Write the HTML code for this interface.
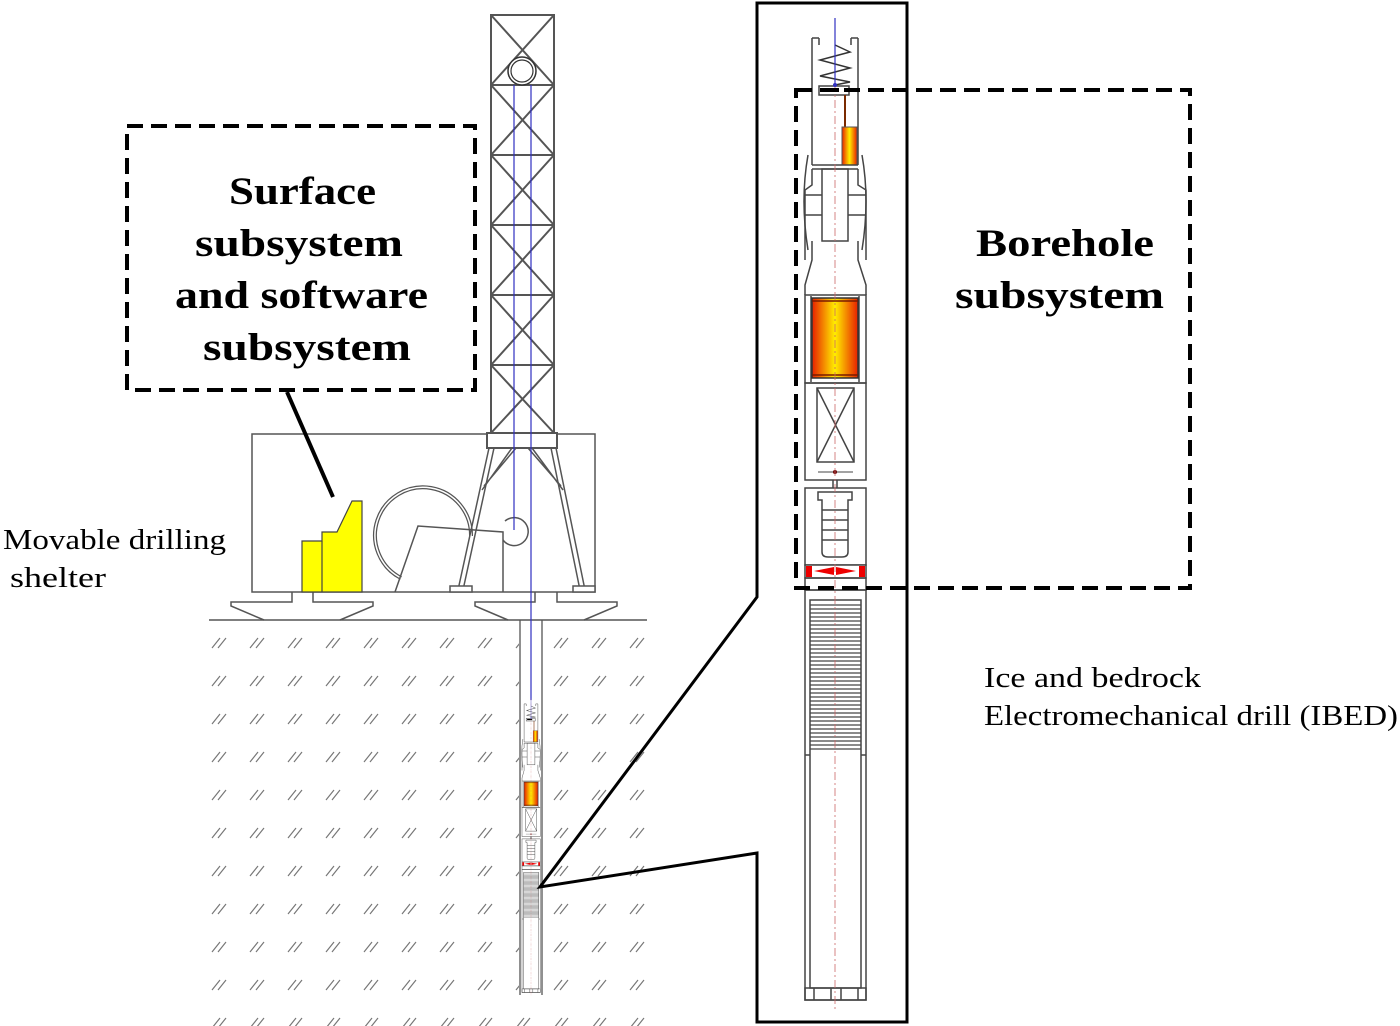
<!DOCTYPE html>
<html><head><meta charset="utf-8"><style>
html,body{margin:0;padding:0;background:#fff;}
svg{display:block;}
text{font-family:"Liberation Serif",serif;}
</style></head><body>
<svg width="1400" height="1026" viewBox="0 0 1400 1026" xmlns="http://www.w3.org/2000/svg">
<defs>
<linearGradient id="og" x1="0" x2="1" y1="0" y2="0">
<stop offset="0" stop-color="#e82000"/><stop offset="0.5" stop-color="#ffee00"/><stop offset="1" stop-color="#e82000"/>
</linearGradient>
<pattern id="hatch" x="210" y="632" width="38" height="38" patternUnits="userSpaceOnUse">
<path d="M2 16 L10 6 M8 16 L16 6" stroke="#777" stroke-width="1.2" fill="none"/>
</pattern>
<g id="drill" fill="none" stroke="#444" stroke-width="1.5">
<path d="M812 38 L812 165 M858 38 L858 165 M812 38 L819 38 M851 38 L858 38 M819 38 L819 45 M851 38 L851 45"/>
<path d="M835 45 L850 52 L820 60 L850 68 L820 76 L850 82 L835 85" stroke="#333"/>
<rect x="819" y="86" width="30" height="9" fill="#fff"/>
<rect x="822" y="88" width="17" height="4" fill="#000" stroke="none"/>
<line x1="845" y1="95" x2="845" y2="127" stroke="#7a2a00" stroke-width="2"/>
<rect x="842" y="127" width="15" height="38" fill="url(#og)" stroke="#555" stroke-width="1"/>
<line x1="812" y1="165" x2="858" y2="165"/><line x1="812" y1="169" x2="858" y2="169"/>
<rect x="822" y="169" width="26" height="72"/>
<path d="M812 169 L812 185 L805 190 L805 260 M858 169 L858 185 L866 190 L866 260"/>
<path d="M808 155 Q800 200 808 250 M862 155 Q870 200 862 250"/>
<line x1="805" y1="195" x2="822" y2="195"/><line x1="848" y1="195" x2="866" y2="195"/>
<line x1="805" y1="215" x2="822" y2="215"/><line x1="848" y1="215" x2="866" y2="215"/>
<path d="M812 241 L812 260 L805 285 L805 295 M858 241 L858 260 L866 285 L866 295"/>
<rect x="805" y="295" width="61" height="88"/>
<line x1="811" y1="296" x2="811" y2="382"/><line x1="859" y1="296" x2="859" y2="382"/>
<rect x="812" y="298" width="46" height="80" fill="url(#og)" stroke="#333"/>
<line x1="812" y1="301" x2="858" y2="301" stroke="#7a1a00"/><line x1="812" y1="375" x2="858" y2="375" stroke="#7a1a00"/>
<rect x="805" y="383" width="61" height="97"/>
<rect x="817" y="388" width="37" height="74"/>
<path d="M817 388 L854 462 M854 388 L817 462"/>
<line x1="818" y1="472" x2="853" y2="472" stroke-width="1"/>
<circle cx="835" cy="472" r="2" fill="#600" stroke="none"/>
<path d="M833 480 L833 488 M837 480 L837 488"/>
<rect x="805" y="488" width="61" height="77"/>
<path d="M818 492 L852 492 L852 500 L848 500 L848 552 Q848 557 842 557 L828 557 Q822 557 822 552 L822 500 L818 500 Z"/>
<path d="M822 510 L848 510 M822 520 L848 520 M822 530 L848 530 M822 540 L848 540"/>
<rect x="805" y="565" width="61" height="13" fill="#fff"/>
<rect x="806" y="566" width="6" height="11" fill="#e00" stroke="none"/>
<rect x="859" y="566" width="6" height="11" fill="#e00" stroke="none"/>
<path d="M814 571 L834 567 L834 575 Z M856 571 L836 567 L836 575 Z" fill="#e00" stroke="none"/>
<rect x="805" y="578" width="61" height="12"/>
<rect x="805" y="590" width="61" height="410"/>
<rect x="810" y="600" width="51" height="388"/>
<path d="M810 605 h51 M810 609 h51 M810 613 h51 M810 617 h51 M810 621 h51 M810 625 h51 M810 629 h51 M810 633 h51 M810 637 h51 M810 641 h51 M810 645 h51 M810 649 h51 M810 653 h51 M810 657 h51 M810 661 h51 M810 665 h51 M810 669 h51 M810 673 h51 M810 677 h51 M810 681 h51 M810 685 h51 M810 689 h51 M810 693 h51 M810 697 h51 M810 701 h51 M810 705 h51 M810 709 h51 M810 713 h51 M810 717 h51 M810 721 h51 M810 725 h51 M810 729 h51 M810 733 h51 M810 737 h51 M810 741 h51 M810 745 h51 M810 749 h51" stroke-width="1.2"/>
<path d="M805 755 h5 M861 755 h5"/>
<rect x="805" y="988" width="61" height="12"/>
<path d="M814 988 v12 M831 988 v12 M841 988 v12 M858 988 v12"/>
<line x1="835" y1="20" x2="835" y2="1010" stroke="#c66" stroke-width="0.8" stroke-dasharray="8 3 2 3"/>
<line x1="835" y1="18" x2="835" y2="85" stroke="#3030c0" stroke-width="1.2"/>
<circle cx="835" cy="85" r="2" fill="#3030c0" stroke="none"/>
</g>
</defs>

<rect x="208" y="630" width="440" height="396" fill="url(#hatch)"/>
<rect x="519" y="621" width="24" height="380" fill="#fff"/>
<line x1="209" y1="620" x2="647" y2="620" stroke="#555" stroke-width="1.5"/>
<path d="M520 620 L520 995 M542 620 L542 995" stroke="#555" stroke-width="1.3" fill="none"/>

<g fill="none" stroke="#555" stroke-width="1.5">
<rect x="252" y="434" width="343" height="158" fill="#fff"/>
<path d="M292 592 L292 602 L231 602 L231 606 L264 620 M313 592 L313 602 L373 602 L373 606 L340 620"/>
<path d="M535 592 L535 602 L475 602 L475 606 L508 620 M557 592 L557 602 L617 602 L617 606 L584 620"/>
<path d="M401 578 A48 48 0 1 1 471 536" stroke-width="4" stroke="#555"/>
<path d="M401 578 A48 48 0 1 1 471 536" stroke-width="1.5" stroke="#fff"/>
<path d="M395 592 L418 526 L503 532 L503 592"/>
<path d="M503 540 A14 14 0 1 0 505 521"/>
</g>
<path d="M302 592 L302 541 L322 541 L322 532 L337 532 L352 501 L362 501 L362 592 Z" fill="#ffff00" stroke="#444" stroke-width="1.2"/>
<line x1="322" y1="541" x2="322" y2="592" stroke="#444" stroke-width="1.2"/>

<g fill="none" stroke="#555" stroke-width="2">
<rect x="491" y="15" width="63" height="418"/>
<path d="M491 85 H554 M491 155 H554 M491 225 H554 M491 295 H554 M491 365 H554"/>
<path d="M491 15 L554 85 M554 15 L491 85 M491 85 L554 155 M554 85 L491 155 M491 155 L554 225 M554 155 L491 225 M491 225 L554 295 M554 225 L491 295 M491 295 L554 365 M554 295 L491 365 M491 365 L554 433 M554 365 L491 433"/>
<rect x="487" y="433" width="70" height="15" fill="#fff"/>
<path d="M489 448 L458 590 M494 448 L463 590 M556 448 L585 590 M551 448 L580 590" stroke-width="1.5"/>
<path d="M512 448 L482 490 M516 448 L484 486 M532 448 L563 490 M528 448 L561 486" stroke-width="1.5"/>
<rect x="450" y="586" width="22" height="6" fill="#fff" stroke-width="1.5"/>
<rect x="573" y="586" width="22" height="6" fill="#fff" stroke-width="1.5"/>
</g>
<circle cx="522" cy="71" r="14" fill="#fff" stroke="#333" stroke-width="1.5"/>
<circle cx="522" cy="71" r="11" fill="none" stroke="#333" stroke-width="1.2"/>
<line x1="514" y1="85" x2="514" y2="530" stroke="#3030c0" stroke-width="1.2"/>
<line x1="531" y1="85" x2="531" y2="700" stroke="#3030c0" stroke-width="1.2"/>

<use href="#drill" transform="translate(280.5 692.5) scale(0.3)"/>

<path d="M757 3 L907 3 L907 1022 L757 1022 L757 853 L540 887 L757 597 Z" fill="none" stroke="#000" stroke-width="3"/>
<use href="#drill"/>

<rect x="127" y="126" width="348" height="264" fill="none" stroke="#000" stroke-width="4" stroke-dasharray="16 8"/>
<rect x="796" y="90" width="394" height="498" fill="none" stroke="#000" stroke-width="4" stroke-dasharray="16 8"/>
<line x1="287" y1="392" x2="333" y2="497" stroke="#000" stroke-width="4"/>

<g font-weight="bold" font-size="39" fill="#000" lengthAdjust="spacingAndGlyphs">
<text x="229" y="204" textLength="147" lengthAdjust="spacingAndGlyphs">Surface</text>
<text x="195" y="256" textLength="208" lengthAdjust="spacingAndGlyphs">subsystem</text>
<text x="175" y="308" textLength="253" lengthAdjust="spacingAndGlyphs">and software</text>
<text x="203" y="360" textLength="208" lengthAdjust="spacingAndGlyphs">subsystem</text>
<text x="976" y="256" textLength="178" lengthAdjust="spacingAndGlyphs">Borehole</text>
<text x="955" y="308" textLength="209" lengthAdjust="spacingAndGlyphs">subsystem</text>
</g>
<g font-size="29" fill="#000">
<text x="3" y="549" textLength="223" lengthAdjust="spacingAndGlyphs">Movable drilling</text>
<text x="10" y="587" textLength="96" lengthAdjust="spacingAndGlyphs">shelter</text>
<text x="984" y="687" textLength="217" lengthAdjust="spacingAndGlyphs">Ice and bedrock</text>
<text x="984" y="725" textLength="414" lengthAdjust="spacingAndGlyphs">Electromechanical drill (IBED)</text>
</g>
</svg>
</body></html>
